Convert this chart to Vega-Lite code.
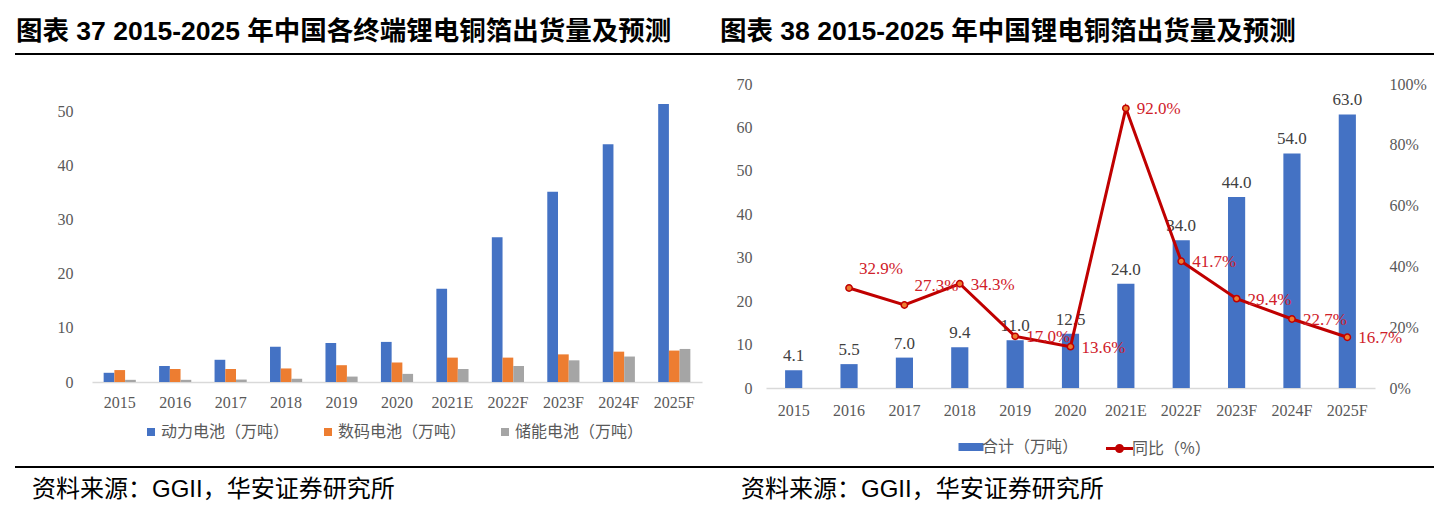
{
  "$schema": "https://vega.github.io/schema/vega-lite/v6.json",
  "background": "white",
  "padding": {"left": 15, "top": 18, "right": 0, "bottom": 0},
  "config": {
    "view": {"stroke": null},
    "axis": {"labelFont": "Liberation Serif", "labelColor": "#595959", "labelFontSize": 16, "ticks": false, "grid": false, "domain": false, "title": null},
    "legend": {"labelFont": "Noto Sans CJK SC", "labelColor": "#595959", "labelFontSize": 16, "title": null}
  },
  "datasets": {
    "components": [
      {"year": "2015", "type": "动力电池（万吨）", "value": 1.7},
      {"year": "2015", "type": "数码电池（万吨）", "value": 2.2},
      {"year": "2015", "type": "储能电池（万吨）", "value": 0.4},
      {"year": "2016", "type": "动力电池（万吨）", "value": 2.95},
      {"year": "2016", "type": "数码电池（万吨）", "value": 2.4},
      {"year": "2016", "type": "储能电池（万吨）", "value": 0.4},
      {"year": "2017", "type": "动力电池（万吨）", "value": 4.1},
      {"year": "2017", "type": "数码电池（万吨）", "value": 2.4},
      {"year": "2017", "type": "储能电池（万吨）", "value": 0.45},
      {"year": "2018", "type": "动力电池（万吨）", "value": 6.5},
      {"year": "2018", "type": "数码电池（万吨）", "value": 2.5},
      {"year": "2018", "type": "储能电池（万吨）", "value": 0.6},
      {"year": "2019", "type": "动力电池（万吨）", "value": 7.2},
      {"year": "2019", "type": "数码电池（万吨）", "value": 3.1},
      {"year": "2019", "type": "储能电池（万吨）", "value": 1.0},
      {"year": "2020", "type": "动力电池（万吨）", "value": 7.4},
      {"year": "2020", "type": "数码电池（万吨）", "value": 3.6},
      {"year": "2020", "type": "储能电池（万吨）", "value": 1.5},
      {"year": "2021E", "type": "动力电池（万吨）", "value": 17.2},
      {"year": "2021E", "type": "数码电池（万吨）", "value": 4.5},
      {"year": "2021E", "type": "储能电池（万吨）", "value": 2.4},
      {"year": "2022F", "type": "动力电池（万吨）", "value": 26.7},
      {"year": "2022F", "type": "数码电池（万吨）", "value": 4.5},
      {"year": "2022F", "type": "储能电池（万吨）", "value": 2.95},
      {"year": "2023F", "type": "动力电池（万吨）", "value": 35.1},
      {"year": "2023F", "type": "数码电池（万吨）", "value": 5.1},
      {"year": "2023F", "type": "储能电池（万吨）", "value": 4.0},
      {"year": "2024F", "type": "动力电池（万吨）", "value": 43.9},
      {"year": "2024F", "type": "数码电池（万吨）", "value": 5.6},
      {"year": "2024F", "type": "储能电池（万吨）", "value": 4.7},
      {"year": "2025F", "type": "动力电池（万吨）", "value": 51.3},
      {"year": "2025F", "type": "数码电池（万吨）", "value": 5.8},
      {"year": "2025F", "type": "储能电池（万吨）", "value": 6.1}
    ],
    "totals": [
      {"year": "2015", "total": 4.1, "yoy": null},
      {"year": "2016", "total": 5.5, "yoy": 0.329},
      {"year": "2017", "total": 7.0, "yoy": 0.273},
      {"year": "2018", "total": 9.4, "yoy": 0.343},
      {"year": "2019", "total": 11.0, "yoy": 0.170},
      {"year": "2020", "total": 12.5, "yoy": 0.136},
      {"year": "2021E", "total": 24.0, "yoy": 0.920},
      {"year": "2022F", "total": 34.0, "yoy": 0.417},
      {"year": "2023F", "total": 44.0, "yoy": 0.294},
      {"year": "2024F", "total": 54.0, "yoy": 0.227},
      {"year": "2025F", "total": 63.0, "yoy": 0.167}
    ]
  },
  "columns": 1,
  "align": "none",
  "spacing": {"row": 6, "column": 0},
  "concat": [
    {
      "columns": 1,
      "align": "none",
      "spacing": {"row": 19, "column": 0},
      "concat": [
        {
          "spacing": 0,
          "hconcat": [
            {
              "width": 705, "height": 2,
              "view": {"fill": "#000000", "stroke": null},
              "title": {"text": "图表 37 2015-2025 年中国各终端锂电铜箔出货量及预测", "anchor": "start", "frame": "group", "font": "Liberation Sans, Noto Sans CJK SC", "fontSize": 26.5, "fontWeight": "bold", "color": "#000000", "offset": -21, "baseline": "bottom", "dx": 1},
              "data": {"values": [{}]},
              "mark": {"type": "point", "opacity": 0},
              "encoding": {}
            },
            {
              "width": 714, "height": 2,
              "view": {"fill": "#000000", "stroke": null},
              "title": {"text": "图表 38 2015-2025 年中国锂电铜箔出货量及预测", "anchor": "start", "frame": "group", "font": "Liberation Sans, Noto Sans CJK SC", "fontSize": 26.5, "fontWeight": "bold", "color": "#000000", "offset": -21, "baseline": "bottom", "dx": 0},
              "data": {"values": [{}]},
              "mark": {"type": "point", "opacity": 0},
              "encoding": {}
            }
          ]
        },
        {
          "spacing": 34,
          "resolve": {"scale": {"x": "independent", "y": "independent", "color": "independent", "fill": "independent", "stroke": "independent"}},
          "hconcat": [
            {
              "width": 687, "height": 298,
              "data": {"name": "components"},
              "mark": {"type": "bar"},
              "encoding": {
                "x": {"field": "year", "type": "nominal", "sort": null, "scale": {"range": [77, 687], "paddingInner": 0.42, "paddingOuter": 0.21},
                  "axis": {"labelAngle": 0, "labelPadding": 12, "domain": true, "domainColor": "#D9D9D9", "domainWidth": 1.5}},
                "xOffset": {"field": "type", "type": "nominal", "sort": ["动力电池（万吨）", "数码电池（万吨）", "储能电池（万吨）"]},
                "y": {"field": "value", "type": "quantitative", "scale": {"domain": [0, 55], "nice": false},
                  "axis": {"values": [0, 10, 20, 30, 40, 50], "labelPadding": 19, "offset": -77}},
                "color": {"field": "type", "type": "nominal",
                  "scale": {"domain": ["动力电池（万吨）", "数码电池（万吨）", "储能电池（万吨）"], "range": ["#4472C4", "#ED7D31", "#A5A5A5"]},
                  "legend": {"orient": "none", "legendX": 128, "legendY": 340, "direction": "horizontal", "symbolType": "square", "symbolSize": 64, "symbolStrokeWidth": 0, "labelOffset": 2, "columnPadding": 30}}
              }
            },
            {
              "width": 609, "height": 304,
              "data": {"name": "totals"},
              "resolve": {"scale": {"y": "independent"}},
              "layer": [
                {
                  "mark": {"type": "bar"},
                  "encoding": {
                    "x": {"field": "year", "type": "nominal", "sort": null, "scale": {"paddingInner": 0.69, "paddingOuter": 0.345},
                      "axis": {"labelAngle": 0, "labelPadding": 14, "domain": true, "domainColor": "#D9D9D9", "domainWidth": 1.5}},
                    "y": {"field": "total", "type": "quantitative", "scale": {"domain": [0, 70], "nice": false},
                      "axis": {"values": [0, 10, 20, 30, 40, 50, 60, 70], "labelPadding": 14, "minExtent": 30}},
                    "fill": {"datum": "合计（万吨）", "scale": {"range": ["#4472C4"]},
                      "legend": {"orient": "none", "legendX": 195, "legendY": 353, "symbolType": "M-1.25,-0.4H1.25V0.4H-1.25Z", "symbolSize": 400, "symbolStrokeWidth": 0, "labelOffset": 1}}
                  }
                },
                {
                  "mark": {"type": "text", "baseline": "bottom", "dy": -5, "font": "Liberation Serif", "fontSize": 17, "color": "#404040"},
                  "encoding": {
                    "x": {"field": "year", "type": "nominal", "sort": null},
                    "y": {"field": "total", "type": "quantitative", "scale": {"domain": [0, 70], "nice": false}, "axis": null},
                    "text": {"field": "total", "type": "quantitative", "format": ".1f"}
                  }
                },
                {
                  "transform": [{"filter": "isValid(datum.yoy)"}],
                  "layer": [
                    {
                      "mark": {"type": "line", "strokeWidth": 3, "color": "#C00000"},
                      "encoding": {
                        "x": {"field": "year", "type": "nominal", "sort": null},
                        "y": {"field": "yoy", "type": "quantitative", "scale": {"domain": [0, 1], "nice": false},
                          "axis": {"orient": "right", "values": [0, 0.1, 0.2, 0.3, 0.4, 0.5, 0.6, 0.7, 0.8, 0.9, 1.0], "format": ".0%", "labelPadding": 14}},
                        "stroke": {"datum": "同比（%）", "scale": {"range": ["#C00000"]},
                          "legend": {"orient": "none", "legendX": 342, "legendY": 353, "symbolType": "M-1.35,0H1.35M0.3,0A0.3,0.3 0 1 1 -0.3,0A0.3,0.3 0 1 1 0.3,0", "symbolSize": 400, "symbolStrokeWidth": 3, "symbolFillColor": "#ED7D31", "labelOffset": 1}}
                      }
                    },
                    {
                      "mark": {"type": "point", "filled": true, "size": 40, "fill": "#ED7D31", "stroke": "#C00000", "strokeWidth": 1.5, "opacity": 1},
                      "encoding": {
                        "x": {"field": "year", "type": "nominal", "sort": null},
                        "y": {"field": "yoy", "type": "quantitative"}
                      }
                    },
                    {
                      "transform": [{"filter": "datum.year != '2016' && datum.year != '2017'"}],
                      "mark": {"type": "text", "align": "left", "baseline": "middle", "dx": 11, "dy": 1, "font": "Liberation Serif", "fontSize": 17, "color": "#D0202A"},
                      "encoding": {
                        "x": {"field": "year", "type": "nominal", "sort": null},
                        "y": {"field": "yoy", "type": "quantitative"},
                        "text": {"field": "yoy", "type": "quantitative", "format": ".1%"}
                      }
                    },
                    {
                      "transform": [{"filter": "datum.year == '2016' || datum.year == '2017'"}],
                      "mark": {"type": "text", "align": "left", "baseline": "middle", "dx": 10, "dy": -19, "font": "Liberation Serif", "fontSize": 17, "color": "#D0202A"},
                      "encoding": {
                        "x": {"field": "year", "type": "nominal", "sort": null},
                        "y": {"field": "yoy", "type": "quantitative"},
                        "text": {"field": "yoy", "type": "quantitative", "format": ".1%"}
                      }
                    }
                  ]
                }
              ]
            }
          ]
        }
      ]
    },
    {
      "spacing": 0,
      "hconcat": [
        {
          "width": 705, "height": 2,
          "view": {"fill": "#000000", "stroke": null},
          "title": {"text": "资料来源：GGII，华安证券研究所", "orient": "bottom", "anchor": "start", "frame": "group", "font": "Liberation Sans, Noto Sans CJK SC", "fontSize": 24, "fontWeight": "normal", "color": "#000000", "offset": 8, "dx": 17},
          "data": {"values": [{}]},
          "mark": {"type": "point", "opacity": 0},
          "encoding": {}
        },
        {
          "width": 714, "height": 2,
          "view": {"fill": "#000000", "stroke": null},
          "title": {"text": "资料来源：GGII，华安证券研究所", "orient": "bottom", "anchor": "start", "frame": "group", "font": "Liberation Sans, Noto Sans CJK SC", "fontSize": 24, "fontWeight": "normal", "color": "#000000", "offset": 8, "dx": 21},
          "data": {"values": [{}]},
          "mark": {"type": "point", "opacity": 0},
          "encoding": {}
        }
      ]
    }
  ]
}
